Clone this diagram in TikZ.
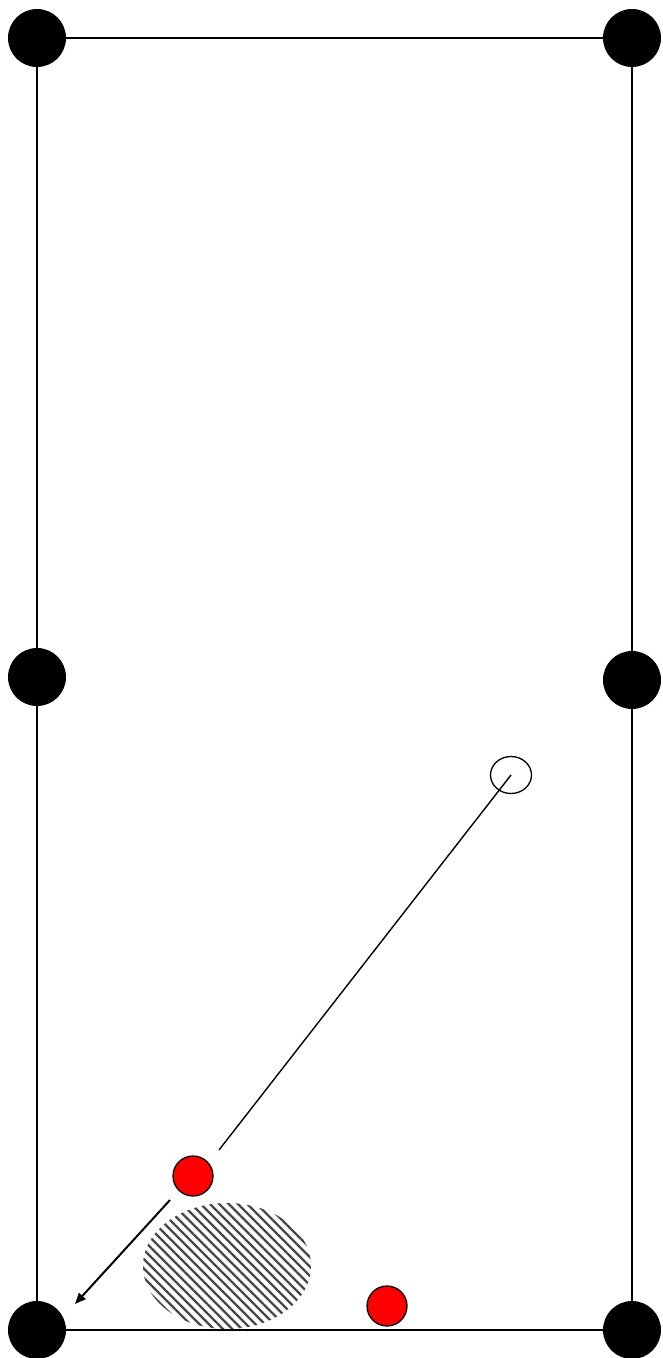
\documentclass[tikz,border=0pt]{standalone}
\usepackage{tikz}
\usetikzlibrary{arrows.meta,shapes.geometric,patterns.meta}

\begin{document}
\begin{tikzpicture}[x=1pt,y=-1pt, pocket/.style={circle,fill=black,minimum size=58pt,inner sep=0pt}, redball/.style={circle,draw=black,fill=red,line width=1.3pt,minimum width=40pt,minimum height=39pt,inner sep=0pt}, cueball/.style={ellipse,draw=black,fill=white,line width=1.3pt,minimum width=41pt,minimum height=37pt,inner sep=0pt}, rail/.style={line width=1.6pt}]
\useasboundingbox (0,0) rectangle (662,1358);
\node[ellipse,minimum width=168pt,minimum height=126pt,inner sep=0pt,pattern={Lines[angle=-45,distance=6.6pt,line width=2.3pt]},pattern color=black!72] (spot) at (227,1266) {};
\node[pocket] (tl) at (37,38) {};
\node[pocket] (tr) at (632,38) {};
\node[pocket] (ml) at (37,677) {};
\node[pocket] (mr) at (632,680) {};
\node[pocket] (bl) at (37,1330) {};
\node[pocket] (br) at (632,1330) {};
\foreach \a/\b in {tl/tr,tr/mr,mr/br,br/bl,bl/ml,ml/tl}{\draw[rail] (\a)--(\b);}
\node[cueball] (cue) at (511,775) {};
\node[redball] (red1) at (193,1176) {};
\node[redball] (red2) at (387,1306) {};
\coordinate (aim) at (219,1150);
\coordinate (from) at (170,1200);
\coordinate (to) at (75,1304);
\draw[line width=1.4pt] (cue.center)--(aim);
\draw[-{Triangle[length=11pt,width=9pt]},line width=2pt] (from)--(to);
\end{tikzpicture}
\end{document}
